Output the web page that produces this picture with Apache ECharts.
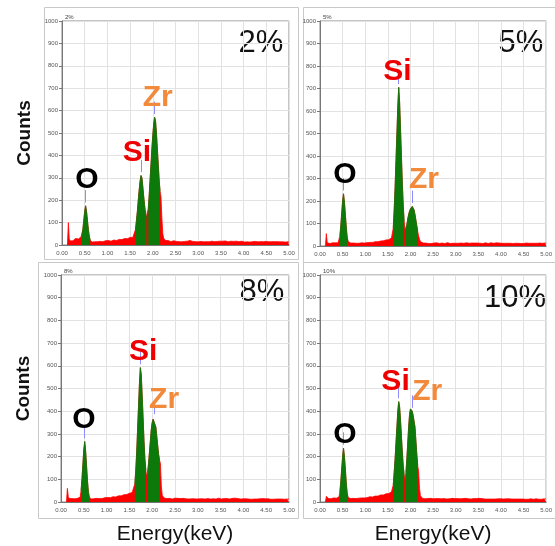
<!DOCTYPE html>
<html>
<head>
<meta charset="utf-8">
<script src="https://cdn.jsdelivr.net/npm/echarts/dist/echarts.min.js"></script>
<style>
  html, body { margin: 0; padding: 0; background: #fff; }
  #chart { width: 555px; height: 546px; }
</style>
</head>
<body>
<div id="chart"></div>
<script>
// EDS spectra, one channel every 0.02 keV starting at 0.12 keV
var energyStart = 0.12;
var energyStep = 0.02;

var counts2 = [
  0, 100, 28, 18, 21, 24, 19, 26, 22, 29,
  25, 31, 27, 33, 30, 36, 40, 70, 110, 150,
  175, 150, 110, 70, 40, 22, 15, 13, 16, 12,
  14, 16, 12, 15, 17, 13, 16, 14, 18, 15,
  17, 14, 19, 16, 18, 20, 16, 19, 17, 21,
  18, 22, 19, 23, 20, 24, 21, 25, 22, 26,
  24, 28, 25, 29, 27, 31, 28, 32, 30, 34,
  32, 36, 34, 38, 41, 70, 110, 150, 200, 245,
  285, 310, 300, 260, 215, 175, 140, 120, 150, 160,
  220, 290, 360, 430, 490, 540, 570, 555, 500, 430,
  360, 290, 240, 215, 120, 50, 30, 24, 20, 18,
  17, 20, 16, 19, 15, 18, 16, 19, 15, 17,
  16, 14, 18, 15, 19, 16, 14, 17, 15, 16,
  19, 15, 17, 14, 16, 20, 15, 17, 16, 14,
  17, 15, 18, 16, 14, 17, 21, 16, 15, 18,
  14, 16, 19, 15, 17, 16, 14, 18, 15, 17,
  16, 19, 15, 17, 14, 16, 18, 15, 17, 16,
  14, 17, 15, 20, 18, 15, 17, 14, 16, 15,
  17, 15, 14, 16, 19, 15, 17, 16, 14, 15,
  16, 14, 17, 15, 18, 13, 15, 17, 14, 16,
  15, 13, 16, 14, 15, 17, 14, 16, 13, 15,
  14, 16, 13, 15, 14, 16, 15, 13, 14, 16,
  15, 13, 14, 16, 13, 15, 14, 12, 15, 14,
  13, 15, 14, 12, 14, 15, 13, 14, 12, 14,
  13, 14, 12, 14, 13
];

var counts5 = [
  0, 55, 14, 10, 12, 11, 13, 12, 14, 13,
  12, 14, 13, 15, 14, 16, 45, 90, 145, 200,
  232, 195, 140, 85, 40, 20, 14, 12, 13, 11,
  12, 13, 11, 14, 12, 13, 15, 12, 14, 13,
  14, 12, 15, 13, 16, 14, 15, 17, 14, 16,
  15, 17, 16, 18, 17, 19, 18, 20, 19, 21,
  20, 22, 21, 24, 23, 25, 24, 27, 26, 29,
  28, 31, 33, 36, 40, 80, 160, 260, 380, 500,
  620, 705, 640, 520, 400, 280, 180, 110, 70, 75,
  95, 120, 140, 155, 165, 172, 176, 170, 160, 140,
  115, 90, 65, 45, 30, 20, 15, 14, 13, 12,
  11, 13, 12, 14, 11, 12, 13, 11, 14, 12,
  13, 11, 12, 14, 12, 13, 11, 12, 14, 13,
  12, 14, 11, 13, 12, 15, 12, 13, 11, 12,
  14, 12, 13, 11, 12, 14, 13, 12, 15, 12,
  13, 11, 14, 12, 13, 12, 14, 11, 13, 12,
  12, 14, 13, 11, 12, 13, 15, 12, 13, 11,
  13, 12, 14, 12, 11, 13, 12, 14, 12, 13,
  11, 13, 12, 14, 13, 11, 12, 13, 12, 14,
  12, 11, 13, 12, 14, 12, 11, 13, 12, 12,
  13, 12, 11, 13, 12, 14, 12, 11, 13, 12,
  12, 13, 11, 12, 13, 12, 11, 13, 12, 11,
  12, 11, 13, 12, 11, 12, 13, 11, 12, 13,
  11, 12, 13, 11, 12, 11, 12, 13, 11, 12,
  12, 11, 12, 13, 11
];

var counts8 = [
  0, 60, 24, 15, 14, 12, 15, 13, 16, 14,
  15, 17, 16, 18, 17, 21, 50, 100, 165, 230,
  266, 225, 160, 95, 45, 22, 15, 13, 14, 12,
  14, 15, 13, 16, 14, 17, 15, 16, 18, 15,
  17, 16, 19, 17, 18, 20, 18, 21, 19, 22,
  20, 23, 21, 24, 22, 25, 24, 27, 25, 28,
  27, 30, 28, 32, 30, 34, 33, 36, 35, 38,
  37, 40, 42, 45, 50, 80, 140, 220, 320, 420,
  520, 592, 560, 470, 370, 270, 190, 140, 112, 130,
  170, 220, 270, 320, 350, 365, 372, 360, 330, 290,
  250, 210, 185, 170, 70, 30, 22, 18, 16, 17,
  15, 17, 14, 16, 18, 15, 13, 16, 14, 17,
  15, 13, 16, 18, 14, 15, 17, 13, 16, 14,
  16, 14, 17, 15, 13, 16, 19, 14, 15, 17,
  14, 16, 15, 13, 17, 15, 14, 18, 16, 14,
  15, 17, 13, 16, 14, 15, 17, 14, 13, 16,
  17, 14, 16, 15, 13, 16, 14, 17, 15, 14,
  13, 16, 14, 15, 17, 13, 15, 14, 16, 13,
  15, 14, 16, 13, 15, 17, 14, 13, 15, 16,
  14, 13, 15, 16, 14, 13, 15, 14, 12, 15,
  13, 15, 14, 12, 15, 14, 13, 15, 14, 13,
  15, 13, 14, 12, 14, 15, 13, 12, 14, 13,
  12, 14, 13, 15, 12, 13, 14, 12, 13, 14,
  13, 12, 14, 13, 12, 14, 13, 12, 13, 12,
  14, 12, 13, 12, 13
];

var counts10 = [
  0, 25, 18, 16, 15, 17, 14, 16, 15, 18,
  16, 19, 17, 20, 18, 22, 45, 90, 145, 200,
  237, 200, 145, 85, 40, 20, 16, 14, 15, 13,
  15, 16, 14, 17, 15, 18, 16, 17, 19, 16,
  18, 17, 20, 18, 19, 21, 19, 22, 20, 23,
  21, 24, 22, 25, 23, 26, 25, 28, 26, 29,
  28, 31, 29, 33, 31, 35, 33, 36, 34, 38,
  37, 40, 42, 45, 50, 75, 130, 190, 260, 330,
  400, 442, 420, 360, 290, 220, 160, 120, 100, 130,
  190, 260, 330, 385, 410, 416, 400, 380, 372, 330,
  270, 210, 160, 135, 60, 28, 20, 17, 15, 16,
  14, 16, 13, 15, 17, 14, 16, 13, 15, 14,
  16, 13, 15, 17, 14, 15, 13, 16, 14, 15,
  13, 15, 14, 16, 13, 15, 17, 14, 13, 15,
  16, 14, 13, 15, 17, 14, 15, 13, 16, 14,
  14, 16, 15, 13, 14, 16, 13, 15, 14, 16,
  15, 13, 14, 16, 15, 13, 14, 15, 13, 14,
  16, 14, 13, 15, 14, 16, 13, 14, 15, 13,
  14, 15, 13, 14, 16, 13, 14, 15, 13, 14,
  13, 14, 15, 13, 14, 12, 14, 13, 15, 13,
  14, 13, 12, 14, 13, 15, 13, 12, 14, 13,
  12, 14, 13, 12, 14, 13, 12, 14, 13, 12,
  13, 12, 14, 13, 12, 13, 12, 14, 12, 13,
  12, 13, 12, 14, 12, 13, 12, 11, 13, 12,
  13, 12, 14, 12, 13
];

// peak windows (keV) filled in green: O K, Si K, Zr L
var roiWindows = [[0.43, 0.63], [1.61, 1.87], [1.89, 2.17]];
// line energies marked in blue by the EDS software
var lineEnergies = [0.52, 1.74, 2.04];

var panelNames = ['2%', '5%', '8%', '10%'];
var panelCounts = [counts2, counts5, counts8, counts10];

// element tags, anchored at [keV, counts]
var tags2 = [['O', 0.55, 290], ['Si', 1.65, 411], ['Zr', 2.11, 656]];
var tags5 = [['O', 0.55, 316], ['Si', 1.71, 773], ['Zr', 2.30, 293]];
var tags8 = [['O', 0.50, 364], ['Si', 1.80, 662], ['Zr', 2.26, 452]];
var tags10 = [['O', 0.55, 298], ['Si', 1.67, 531], ['Zr', 2.37, 487]];
var panelTags = [tags2, tags5, tags8, tags10];

var tagColors = { O: '#000000', Si: '#ee0000', Zr: '#f28a3c' };

// layout
var grids = [
  { left: 62, top: 21, width: 227, height: 224 },
  { left: 320, top: 21, width: 228, height: 225 },
  { left: 61, top: 275, width: 228, height: 228 },
  { left: 320, top: 275, width: 228, height: 228 }
];
var boxes = [
  [44, 7, 254, 252], [303, 7, 260, 255],
  [38, 262, 260, 256], [303, 262, 260, 256]
];
var pctPos = [[261, 43], [521, 43], [262, 292], [515, 298]];

var font = 'Liberation Sans, Arial, sans-serif';

function inWindow(e) {
  for (var k = 0; k < roiWindows.length; k++) {
    if (e >= roiWindows[k][0] && e <= roiWindows[k][1]) return true;
  }
  return false;
}

var option = {
  animation: false,
  grid: [],
  xAxis: [],
  yAxis: [],
  series: [],
  graphic: []
};

for (var p = 0; p < 4; p++) {
  var g = grids[p];
  option.grid.push({
    left: g.left, top: g.top, width: g.width, height: g.height,
    show: true, borderColor: '#8a8a8a', borderWidth: 1
  });

  option.xAxis.push({
    gridIndex: p,
    type: 'value',
    min: 0, max: 5, interval: 0.5,
    name: p >= 2 ? 'Energy(keV)' : '',
    nameLocation: 'middle',
    nameGap: 22,
    nameTextStyle: { fontSize: 21, color: '#111', fontFamily: font },
    axisLine: { lineStyle: { color: '#777' } },
    axisTick: { show: false },
    axisLabel: {
      fontSize: 6, color: '#555', margin: 5,
      formatter: function (v) { return v.toFixed(2); }
    },
    splitLine: { lineStyle: { color: '#e2e2e2' } }
  });

  option.yAxis.push({
    gridIndex: p,
    type: 'value',
    min: 0, max: 1000, interval: 100,
    name: (p % 2 === 0) ? 'Counts' : '',
    nameLocation: 'middle',
    nameGap: 28,
    nameTextStyle: { fontSize: 19, fontWeight: 'bold', color: '#111', fontFamily: font },
    axisLine: { show: true, lineStyle: { color: '#777' } },
    axisTick: { show: true, length: 3, lineStyle: { color: '#777' } },
    axisLabel: {
      fontSize: 6, color: '#555', margin: 4,
      formatter: function (v) { return String(v); }
    },
    splitLine: { lineStyle: { color: '#e2e2e2' } }
  });

  var full = [];
  var roi = [];
  var c = panelCounts[p];
  for (var i = 0; i < c.length; i++) {
    var e = +(energyStart + i * energyStep).toFixed(2);
    full.push([e, c[i]]);
    roi.push([e, inWindow(e) ? c[i] : null]);
  }

  // short blue marker above each identified line
  var marks = [];
  for (var m = 0; m < lineEnergies.length; m++) {
    var idx = Math.round((lineEnergies[m] - energyStart) / energyStep);
    marks.push([
      { coord: [lineEnergies[m], c[idx] + 15] },
      { coord: [lineEnergies[m], c[idx] + 70] }
    ]);
  }

  option.series.push({
    name: panelNames[p] + ' spectrum',
    type: 'line',
    xAxisIndex: p, yAxisIndex: p,
    data: full,
    symbol: 'none',
    lineStyle: { color: '#ff0000', width: 0.8 },
    areaStyle: { color: '#ff0000', opacity: 1 },
    z: 2
  });

  option.series.push({
    name: panelNames[p] + ' peaks',
    type: 'line',
    xAxisIndex: p, yAxisIndex: p,
    data: roi,
    connectNulls: false,
    symbol: 'none',
    lineStyle: { color: '#0b7a0b', width: 0.8 },
    areaStyle: { color: '#0b7a0b', opacity: 1 },
    markLine: {
      silent: true,
      symbol: 'none',
      label: { show: false },
      lineStyle: { color: '#8c8cff', width: 1, type: 'solid' },
      data: marks
    },
    z: 3
  });

  var tagData = [];
  var t = panelTags[p];
  for (var j = 0; j < t.length; j++) {
    tagData.push({
      name: t[j][0],
      value: [t[j][1], t[j][2]],
      label: { color: tagColors[t[j][0]] }
    });
  }
  option.series.push({
    type: 'scatter',
    xAxisIndex: p, yAxisIndex: p,
    data: tagData,
    symbolSize: 0,
    silent: true,
    itemStyle: { opacity: 1 },
    label: {
      show: true,
      position: 'inside',
      formatter: '{b}',
      fontSize: 30,
      fontWeight: 'bold',
      fontFamily: font
    },
    z: 5
  });

  var b = boxes[p];
  option.graphic.push({
    type: 'rect',
    shape: { x: b[0] + 0.5, y: b[1] + 0.5, width: b[2], height: b[3] },
    style: { fill: 'none', stroke: '#c9c9c9', lineWidth: 1 },
    z: -1
  });
  option.graphic.push({
    type: 'text',
    x: pctPos[p][0], y: pctPos[p][1],
    style: {
      text: panelNames[p], fontSize: 31, fill: '#111', fontFamily: font,
      textAlign: 'center', textVerticalAlign: 'middle'
    }
  });
  option.graphic.push({
    type: 'text',
    x: g.left + 3, y: g.top - 7,
    style: { text: panelNames[p], fontSize: 6, fill: '#444', fontFamily: font }
  });
}

var chart = echarts.init(document.getElementById('chart'), null, { renderer: 'canvas' });
chart.setOption(option);
</script>
</body>
</html>
